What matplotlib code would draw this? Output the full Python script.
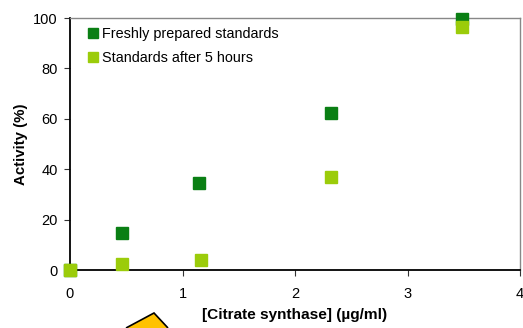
import matplotlib
matplotlib.use("Agg")
import matplotlib.pyplot as plt
from matplotlib.patches import Polygon
from matplotlib.lines import Line2D

plt.rcParams['font.family'] = ['Liberation Sans', 'DejaVu Sans']

# Enzyme concentration (ug/ml) and measured activity (%)
conc_fresh = [0.0, 0.46, 1.15, 2.32, 3.48]
activity_fresh = [0.0, 14.7, 34.5, 62.3, 99.6]
conc_aged = [0.0, 0.46, 1.16, 2.32, 3.48]
activity_aged = [0.0, 2.4, 4.0, 37.0, 96.4]
series_labels = ["Freshly prepared standards", "Standards after 5 hours"]
x_ticks = [0, 1, 2, 3, 4]
y_ticks = [0, 20, 40, 60, 80, 100]

dark_green = '#0A7F14'
light_green = '#9BCC0A'

fig = plt.figure(figsize=(5.23, 3.28), dpi=100)
ax = fig.add_axes([70 / 523, 1 - 270 / 328, 450 / 523, 252 / 328])

ms = 8.0
ax.plot(conc_fresh, activity_fresh, 's', color=dark_green, ms=ms, clip_on=False, zorder=3)
ax.plot(conc_aged, activity_aged, 's', color=light_green, ms=ms, clip_on=False, zorder=4)

ax.set_xlim(0, 4)
ax.set_ylim(0, 100)
ax.set_xticks(x_ticks)
ax.set_yticks(y_ticks)
ax.tick_params(axis='both', labelsize=10.5, length=4, width=0.8, color='#333333')
ax.tick_params(axis='x', pad=8)
ax.tick_params(axis='y', pad=5)

for side in ('left', 'bottom'):
    ax.spines[side].set_color('black')
    ax.spines[side].set_linewidth(1.3)
for side in ('top', 'right'):
    ax.spines[side].set_color('#888888')
    ax.spines[side].set_linewidth(1.0)

ax.set_xlabel('[Citrate synthase] (\u00b5g/ml)', fontsize=11.1, fontweight='bold', labelpad=5)
ax.set_ylabel('Activity (%)', fontsize=10.8, fontweight='bold', labelpad=3.5)

handles = [Line2D([], [], marker='s', ls='none', color=dark_green, ms=7.5),
           Line2D([], [], marker='s', ls='none', color=light_green, ms=7.5)]
ax.legend(handles, series_labels, loc='upper left', frameon=False, fontsize=10.4,
          handletextpad=0.05, handlelength=1.1, labelspacing=0.72,
          bbox_to_anchor=(0.012, 1.005), borderaxespad=0.3)

# Yellow pointer shape at the lower edge
W, H = 523, 328
pts = [(126, 328), (154, 313), (168, 328)]
poly = Polygon([(x / W, 1 - y / H) for x, y in pts], closed=False,
               transform=fig.transFigure, facecolor='#FFC200', edgecolor='black',
               linewidth=1.2, zorder=5)
fig.patches.append(poly)

fig.savefig('out.png', dpi=100)
